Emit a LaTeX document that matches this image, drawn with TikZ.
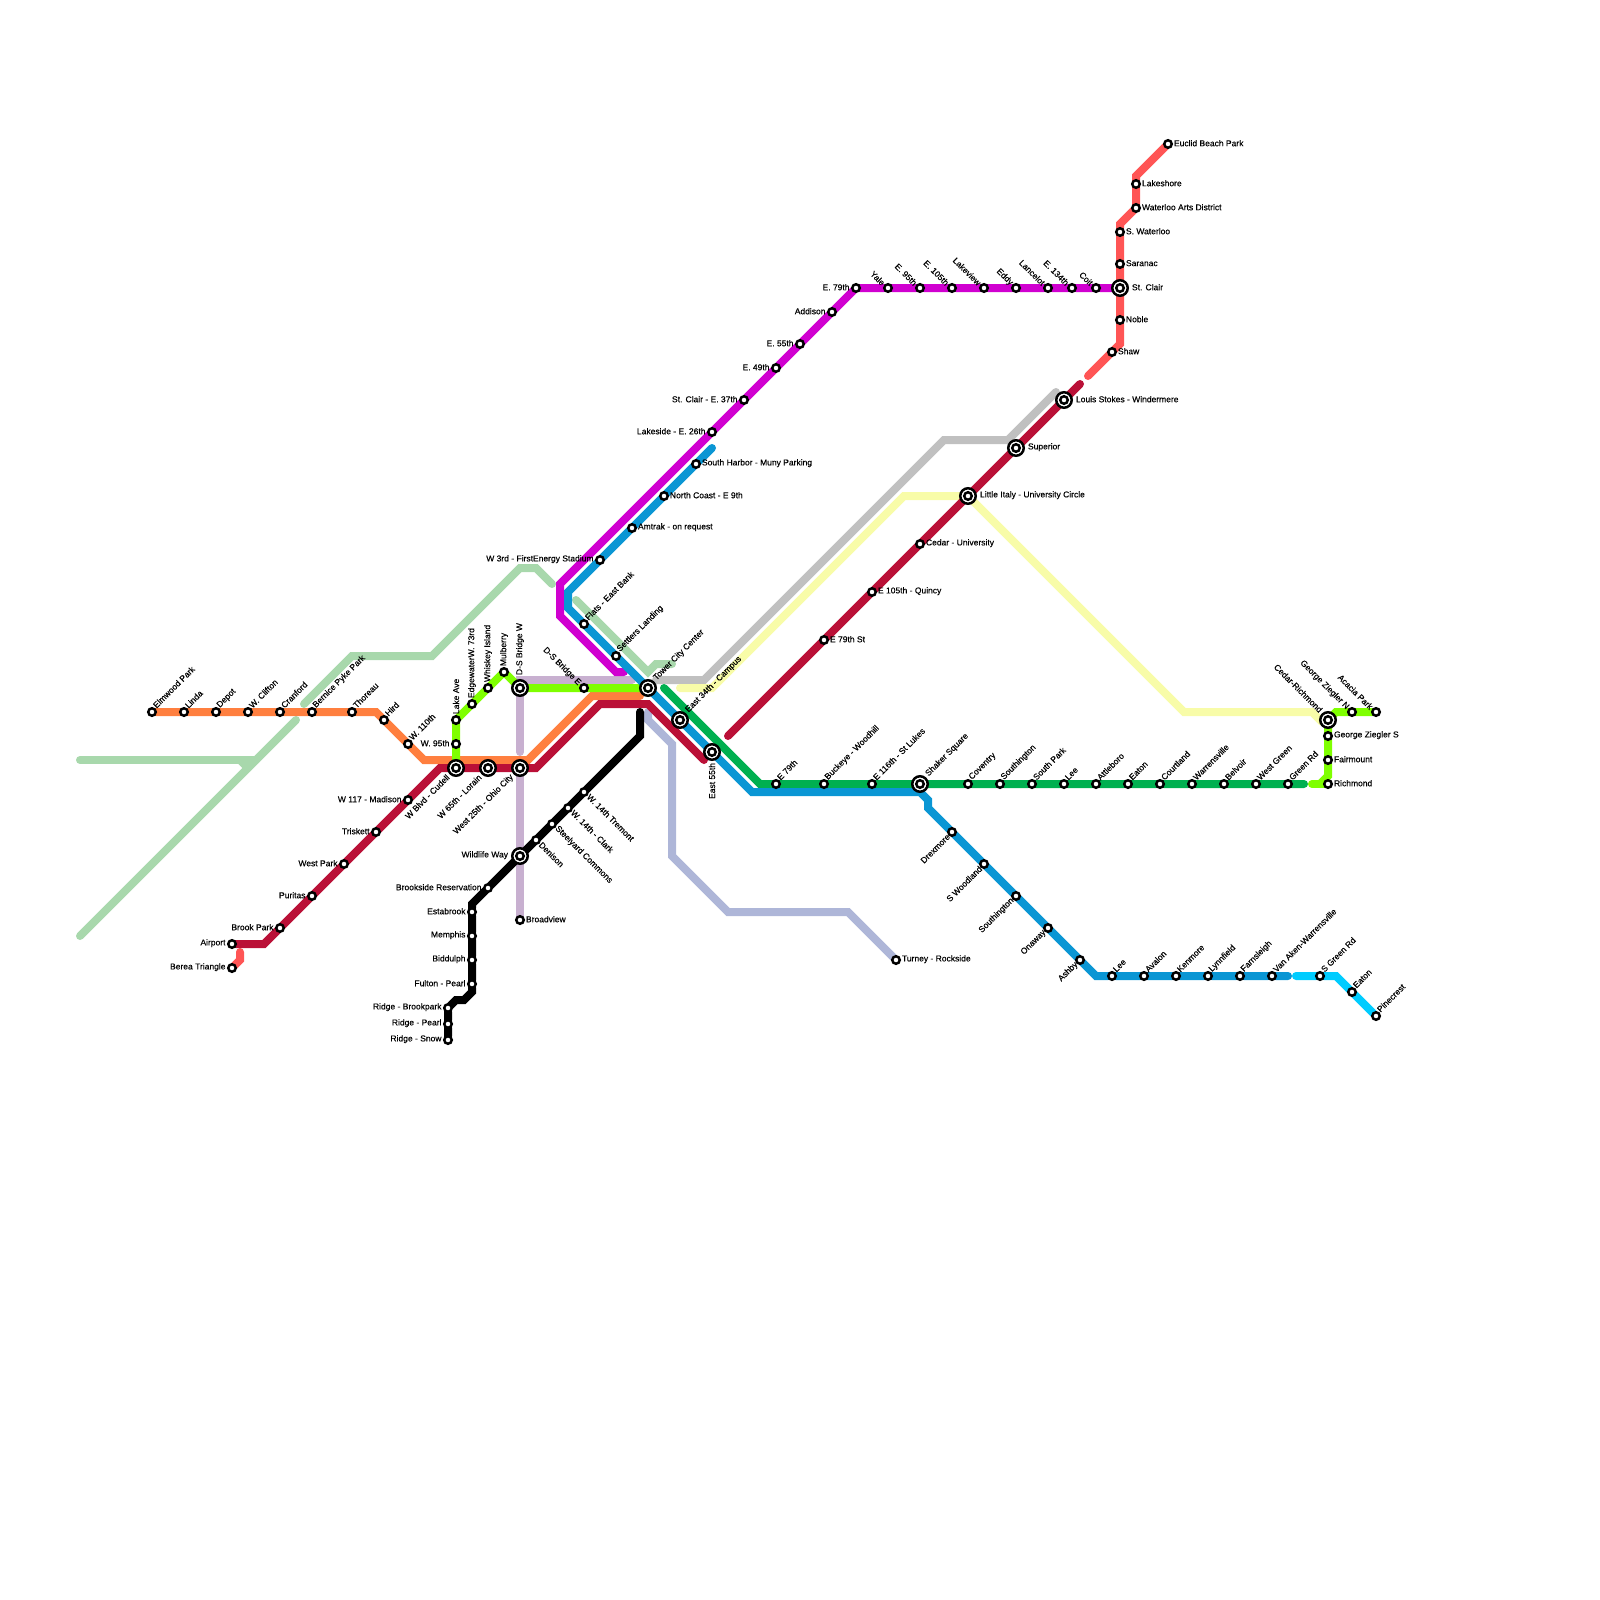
\documentclass[tikz,border=0pt]{standalone}
\usepackage{fontspec}
\setmainfont{Liberation Sans}[FakeBold=0.25]
\pgfdeclarelayer{lines}
\pgfsetlayers{lines,main}
\definecolor{cOrange}{HTML}{FF7F3F}
\definecolor{cCrimson}{HTML}{BA1037}
\definecolor{cLime}{HTML}{7FFF00}
\definecolor{cGreen}{HTML}{00B050}
\definecolor{cBlue}{HTML}{0A96D4}
\definecolor{cMagenta}{HTML}{D000D0}
\definecolor{cRed}{HTML}{FF5555}
\definecolor{cMint}{HTML}{A8D8AC}
\definecolor{cLav}{HTML}{C8B0D0}
\definecolor{cPeri}{HTML}{AEB6D8}
\definecolor{cGray}{HTML}{C0C0C0}
\definecolor{cYellow}{HTML}{F8FCA8}
\definecolor{cSky}{HTML}{00CCFF}
\tikzset{
  x=1pt,y=-1pt,
  stn/.style={circle,draw=black,line width=2.5,fill=white,minimum size=7.5,inner sep=0,outer sep=0},
  hub/.style={circle,draw=black,line width=2.5,fill=white,minimum size=15.5,inner sep=0,outer sep=0,
    path picture={\draw[line width=2.5,fill=white] (path picture bounding box.center) circle[radius=3.75];}},
  lbl/.style={font=\fontsize{8.5}{8.5}\selectfont,inner sep=0,outer sep=0,text=black},
  ur/.style={xshift=2.5,yshift=5.5,rotate=45,anchor=west},
  ul/.style={xshift=-4.5,yshift=4,rotate=-45,anchor=east},
  ll/.style={xshift=-3.5,yshift=-3.5,rotate=45,anchor=east},
  lr/.style={xshift=4.5,yshift=-3.5,rotate=-45,anchor=west},
  lf/.style={xshift=-6.5,yshift=0.8,anchor=east},
  rt/.style={xshift=6,yshift=0.8,anchor=west},
  up/.style={yshift=6,rotate=90,anchor=west},
  dn/.style={yshift=-11,rotate=90,anchor=east},
  hur/.style={xshift=7,yshift=9,rotate=45,anchor=west},
  hul/.style={xshift=-7,yshift=9,rotate=-45,anchor=east},
  hll/.style={xshift=-8,yshift=-8,rotate=45,anchor=east},
  hlf/.style={xshift=-12,yshift=0.8,anchor=east},
  hrt/.style={xshift=12,yshift=0.8,anchor=west},
  hup/.style={yshift=13,rotate=90,anchor=west},
  ln/.style={line width=8,line cap=round,line join=miter},
}
\newcommand\st[5]{\node[stn] (#1) at (#2,#3) {};\node[lbl,#5] (#1L) at (#1) {#4};}
\newcommand\hb[5]{\node[hub] (#1) at (#2,#3) {};\node[lbl,#5] (#1L) at (#1) {#4};}
\begin{document}
\begin{tikzpicture}
\useasboundingbox (0,0) rectangle (1600,1600);
% orange line
\st{elm}{152}{712}{Elmwood Park}{ur}
\st{lin}{184}{712}{Linda}{ur}
\st{dep}{216}{712}{Depot}{ur}
\st{wcl}{248}{712}{W. Clifton}{ur}
\st{cra}{280}{712}{Cranford}{ur}
\st{ber}{312}{712}{Bernice Pyke Park}{ur}
\st{tho}{352}{712}{Thoreau}{ur}
\st{hir}{384}{720}{Hird}{ur}
\st{w110}{408}{744}{W. 110th}{ur}
% crimson west
\st{air}{232}{944}{Airport}{lf}
\st{ber2}{232}{968}{Berea Triangle}{lf}
\st{bro}{280}{928}{Brook Park}{lf}
\st{pur}{312}{896}{Puritas}{lf}
\st{wpk}{344}{864}{West Park}{lf}
\st{tri}{376}{832}{Triskett}{lf}
\st{w117}{408}{800}{W 117 - Madison}{lf}
\hb{cud}{456}{768}{W Blvd - Cudell}{hll}
\hb{lor}{488}{768}{W 65th - Lorain}{hll}
\hb{ohi}{520}{768}{West 25th - Ohio City}{hll}
% lime
\st{w95}{456}{744}{W. 95th}{lf}
\st{lak}{456}{720}{Lake Ave}{up}
\st{edg}{472}{704}{EdgewaterW. 73rd}{up}
\st{whi}{488}{688}{Whiskey Island}{up}
\st{mul}{504}{672}{Mulberry}{up}
\hb{dsw}{520}{688}{D-S Bridge W}{hup}
\st{dse}{584}{688}{D-S Bridge E}{ul}
\hb{tow}{648}{688}{Tower City Center}{hur}
% black and lavender
\st{sno}{448}{1040}{Ridge - Snow}{lf}
\st{rpe}{448}{1024}{Ridge - Pearl}{lf}
\st{rbr}{448}{1008}{Ridge - Brookpark}{lf}
\st{ful}{472}{984}{Fulton - Pearl}{lf}
\st{bid}{472}{960}{Biddulph}{lf}
\st{mem}{472}{936}{Memphis}{lf}
\st{est}{472}{912}{Estabrook}{lf}
\st{brk}{488}{888}{Brookside Reservation}{lf}
\hb{wil}{520}{856}{Wildlife Way}{hlf}
\st{den}{536}{840}{Denison}{lr}
\st{ste}{552}{824}{Steelyard Commons}{lr}
\st{cla}{568}{808}{W. 14th - Clark}{lr}
\st{tre}{584}{792}{W. 14th Tremont}{lr}
\st{brv}{520}{920}{Broadview}{rt}
% magenta
\st{lks}{712}{432}{Lakeside - E. 26th}{lf}
\st{e37}{744}{400}{St. Clair - E. 37th}{lf}
\st{e49}{776}{368}{E. 49th}{lf}
\st{e55}{800}{344}{E. 55th}{lf}
\st{add}{832}{312}{Addison}{lf}
\st{e79}{856}{288}{E. 79th}{lf}
\st{yal}{888}{288}{Yale}{ul}
\st{e95}{920}{288}{E. 95th}{ul}
\st{e105}{952}{288}{E. 105th}{ul}
\st{lkv}{984}{288}{Lakeview}{ul}
\st{edd}{1016}{288}{Eddy}{ul}
\st{lan}{1048}{288}{Lancelot}{ul}
\st{e134}{1072}{288}{E. 134th}{ul}
\st{coi}{1096}{288}{Coit}{ul}
\hb{stc}{1120}{288}{St. Clair}{hrt}
% red
\st{euc}{1168}{144}{Euclid Beach Park}{rt}
\st{lsh}{1136}{184}{Lakeshore}{rt}
\st{wat}{1136}{208}{Waterloo Arts District}{rt}
\st{swa}{1120}{232}{S. Waterloo}{rt}
\st{sar}{1120}{264}{Saranac}{rt}
\st{nob}{1120}{320}{Noble}{rt}
\st{sha}{1112}{352}{Shaw}{rt}
% blue north
\st{w3}{600}{560}{W 3rd - FirstEnergy Stadium}{lf}
\st{amt}{632}{528}{Amtrak - on request}{rt}
\st{nco}{664}{496}{North Coast - E 9th}{rt}
\st{sha2}{696}{464}{South Harbor - Muny Parking}{rt}
\st{fla}{584}{624}{Flats - East Bank}{ur}
\st{set}{616}{656}{Settlers Landing}{ur}
\hb{e34}{680}{720}{East 34th - Campus}{hur}
\hb{e55s}{712}{752}{East 55th}{dn}
% green
\st{e79g}{776}{784}{E 79th}{ur}
\st{buc}{824}{784}{Buckeye - Woodhill}{ur}
\st{e116}{872}{784}{E 116th - St Lukes}{ur}
\hb{sha3}{920}{784}{Shaker Square}{hur}
\st{cov}{968}{784}{Coventry}{ur}
\st{sou}{1000}{784}{Southington}{ur}
\st{spk}{1032}{784}{South Park}{ur}
\st{lee}{1064}{784}{Lee}{ur}
\st{att}{1096}{784}{Attleboro}{ur}
\st{eat}{1128}{784}{Eaton}{ur}
\st{cou}{1160}{784}{Courtland}{ur}
\st{war}{1192}{784}{Warrensville}{ur}
\st{bel}{1224}{784}{Belvoir}{ur}
\st{wgr}{1256}{784}{West Green}{ur}
\st{grd}{1288}{784}{Green Rd}{ur}
% blue south
\st{dre}{952}{832}{Drexmore}{ll}
\st{swo}{984}{864}{S Woodland}{ll}
\st{soh}{1016}{896}{Southington}{ll}
\st{ona}{1048}{928}{Onaway}{ll}
\st{ash}{1080}{960}{Ashby}{ll}
\st{lee2}{1112}{976}{Lee}{ur}
\st{ava}{1144}{976}{Avalon}{ur}
\st{ken}{1176}{976}{Kenmore}{ur}
\st{lyn}{1208}{976}{Lynnfield}{ur}
\st{far}{1240}{976}{Farnsleigh}{ur}
\st{van}{1272}{976}{Van Aken-Warrensville}{ur}
\st{sgr}{1320}{976}{S Green Rd}{ur}
\st{eat2}{1352}{992}{Eaton}{ur}
\st{pin}{1376}{1016}{Pinecrest}{ur}
% crimson east
\st{e79s}{824}{640}{E 79th St}{rt}
\st{qui}{872}{592}{E 105th - Quincy}{rt}
\st{ced}{920}{544}{Cedar - University}{rt}
\hb{lit}{968}{496}{Little Italy - University Circle}{hrt}
\hb{sup}{1016}{448}{Superior}{hrt}
\hb{lou}{1064}{400}{Louis Stokes - Windermere}{hrt}
% lime east
\hb{crd}{1328}{720}{Cedar-Richmond}{hul}
\st{gzn}{1352}{712}{George Ziegler N}{ul}
\st{aca}{1376}{712}{Acacia Park}{ul}
\st{gzs}{1328}{736}{George Ziegler S}{rt}
\st{fai}{1328}{760}{Fairmount}{rt}
\st{ric}{1328}{784}{Richmond}{rt}
% periwinkle
\st{tur}{896}{960}{Turney - Rockside}{rt}
\begin{pgfonlayer}{lines}
% corners and free ends
\foreach \n/\x/\y in {
 o1/376/712,o2/424/760,o3/528/760,o4/592/696,o5/640/696,
 m1/80/760,m2/256/760,m3/240/760,m4/248/768,m5/80/936,m6/296/720,
 m7/304/704,m8/352/656,m9/432/656,m10/520/568,m11/536/568,m12/552/584,
 m13/576/600,m14/648/672,m15/656/664,m16/672/664,
 g1/656/680,g2/704/680,g3/944/440,g4/1008/440,g5/1056/392,
 y1/680/688,y2/712/688,y3/904/496,y4/1184/712,y5/1312/712,y6/1322/722,
 p1/648/712,p2/648/720,p3/672/744,p4/672/856,p5/728/912,p6/848/912,
 l1/632/680,l2/520/680,l3/520/752,
 k1/464/1000,k2/456/1000,k3/472/992,k4/472/904,k5/640/736,k6/640/712,
 c1/264/944,c2/440/768,c3/536/768,c4/600/704,c5/648/704,c6/704/760,c7/728/736,c8/1080/384,
 r1/240/960,r2/240/952,r3/1136/176,r4/1120/224,r5/1120/344,r6/1088/376,
 b1/712/448,b2/568/592,b3/568/608,b4/752/792,b5/920/792,b6/928/800,b7/928/808,b8/1096/976,b9/1288/976,
 s1/1296/976,s2/1336/976,
 v1/560/584,v2/560/616,v3/616/672,v4/624/672,
 e1/664/688,e2/760/784,e3/1304/784,
 a1/1336/712,a2/1328/776,a3/1320/784,a4/1312/784}
 {\coordinate (\n) at (\x,\y);}
\draw[ln,cMint] (m1)--(m2);
\draw[ln,cMint] (m3)--(m4);
\draw[ln,cMint] (m5)--(m6);
\draw[ln,cMint] (m7)--(m8)--(m9)--(m10)--(m11)--(m12);
\draw[ln,cMint] (m13)--(m14)--(m15)--(m16);
\draw[ln,cPeri] (p1)--(p2)--(p3)--(p4)--(p5)--(p6)--(tur);
\draw[ln,cGray] (g1)--(g2)--(g3)--(g4)--(g5);
\draw[ln,cYellow] (y1)--(y2)--(y3)--(lit)--(y4)--(y5)--(y6);
\draw[ln,cLav] (l1)--(l2)--(l3);
\draw[ln,cLav] (ohi)--(wil)--(brv);
\draw[ln,cOrange] (elm)--(lin)--(dep)--(wcl)--(cra)--(ber)--(tho)--(o1)--(hir)--(w110)--(o2)--(o3)--(o4)--(o5);
\draw[ln,cMagenta] (stc)--(coi)--(e134)--(lan)--(edd)--(lkv)--(e105)--(e95)--(yal)--(e79)--(add)--(e55)--(e49)--(e37)--(lks)--(v1)--(v2)--(v3)--(v4);
\draw[ln,cLime] (cud)--(w95)--(lak)--(edg)--(whi)--(mul)--(dsw)--(dse)--(tow);
\draw[ln,cLime] (ric)--(a3)--(a4);
\draw[ln,cLime] (aca)--(gzn)--(a1)--(crd)--(gzs)--(fai)--(a2)--(a3);
\draw[ln,cRed] (ber2)--(r1)--(r2);
\draw[ln,cRed] (euc)--(r3)--(lsh)--(wat)--(r4)--(swa)--(sar)--(stc)--(nob)--(r5)--(sha)--(r6);
\draw[ln,cGreen] (e1)--(e2)--(e79g)--(buc)--(e116)--(sha3)--(cov)--(sou)--(spk)--(lee)--(att)--(eat)--(cou)--(war)--(bel)--(wgr)--(grd)--(e3);
\draw[ln,cBlue] (b1)--(sha2)--(nco)--(amt)--(w3)--(b2)--(b3)--(fla)--(set)--(tow)--(e34)--(e55s)--(b4)--(b5)--(b6)--(b7)--(dre)--(swo)--(soh)--(ona)--(ash)--(b8)--(lee2)--(ava)--(ken)--(lyn)--(far)--(van)--(b9);
\draw[ln,cSky] (s1)--(sgr)--(s2)--(eat2)--(pin);
\draw[ln,cCrimson] (air)--(c1)--(bro)--(pur)--(wpk)--(tri)--(w117)--(c2)--(cud)--(lor)--(ohi)--(c3)--(c4)--(c5)--(c6);
\draw[ln,cCrimson] (c7)--(e79s)--(qui)--(ced)--(lit)--(sup)--(lou)--(c8);
\draw[ln,black] (sno)--(rpe)--(rbr)--(k2)--(k1)--(k3)--(ful)--(bid)--(mem)--(est)--(k4)--(brk)--(wil)--(den)--(ste)--(cla)--(tre)--(k5)--(k6);
\end{pgfonlayer}
\end{tikzpicture}
\end{document}
